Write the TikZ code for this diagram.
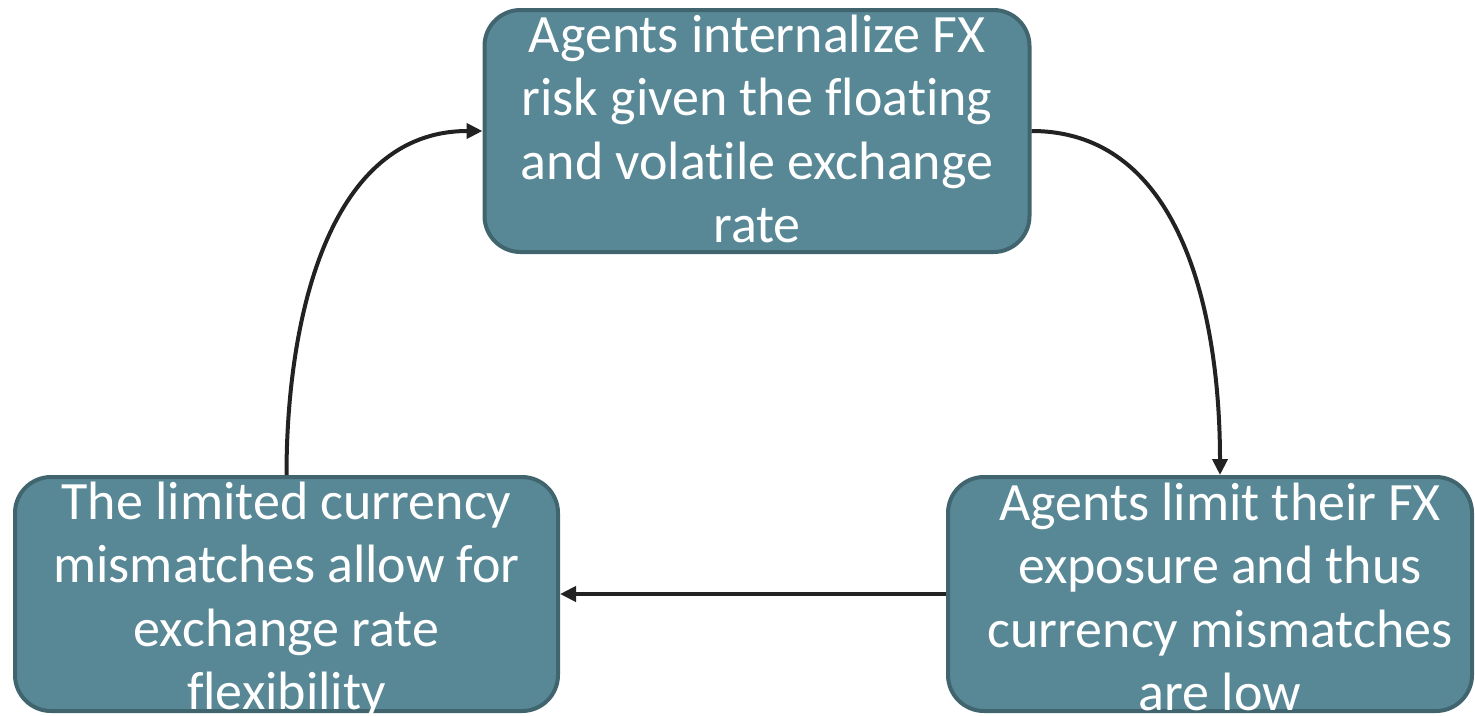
\documentclass[tikz,border=0pt]{standalone}
\usepackage{fontspec}
\setmainfont{Carlito}[Ligatures=NoCommon]
\usetikzlibrary{arrows.meta}
\definecolor{boxfill}{HTML}{588896}
\definecolor{boxline}{HTML}{41656F}
\definecolor{arrowc}{HTML}{222222}
\tikzset{
  cyclebox/.style={draw=boxline, line width=4pt, fill=boxfill, rounded corners=36pt,
    inner sep=0pt},
  boxtext/.style={inner sep=0pt, text=white, align=center,
    font=\fontsize{54}{63.5}\selectfont},
  flow/.style={draw=arrowc, line width=4pt, -{Triangle[length=16pt,width=15pt]}}
}
\begin{document}
\begin{tikzpicture}[x=1pt,y=-1pt]
\useasboundingbox (0,0) rectangle (1475,715);
\node[cyclebox, minimum width=545pt, minimum height=242pt] (top) at (757,131) {};
\node[cyclebox, minimum width=543pt, minimum height=234pt] (left) at (286.5,594) {};
\node[cyclebox, minimum width=524pt, minimum height=234pt] (right) at (1210,594) {};
\node[boxtext] (toptext) at (757,129)
  {Agents internalize FX\\risk given the floating\\and volatile exchange\\rate};
\node[boxtext] (lefttext) at (286.5,600)
  {The limited currency\\mismatches allow for\\exchange rate\\flexibility};
\node[boxtext] (righttext) at (1220,597)
  {Agents limit their FX\\exposure and thus\\currency mismatches\\are low};
\coordinate (rin) at ([xshift=10pt]right.north);
\draw[flow] (top.east) to[out=0,in=90] (rin);
\draw[flow] (right.west) -- (left.east);
\draw[flow] (left.north) to[out=90,in=180] (top.west);
\end{tikzpicture}
\end{document}
